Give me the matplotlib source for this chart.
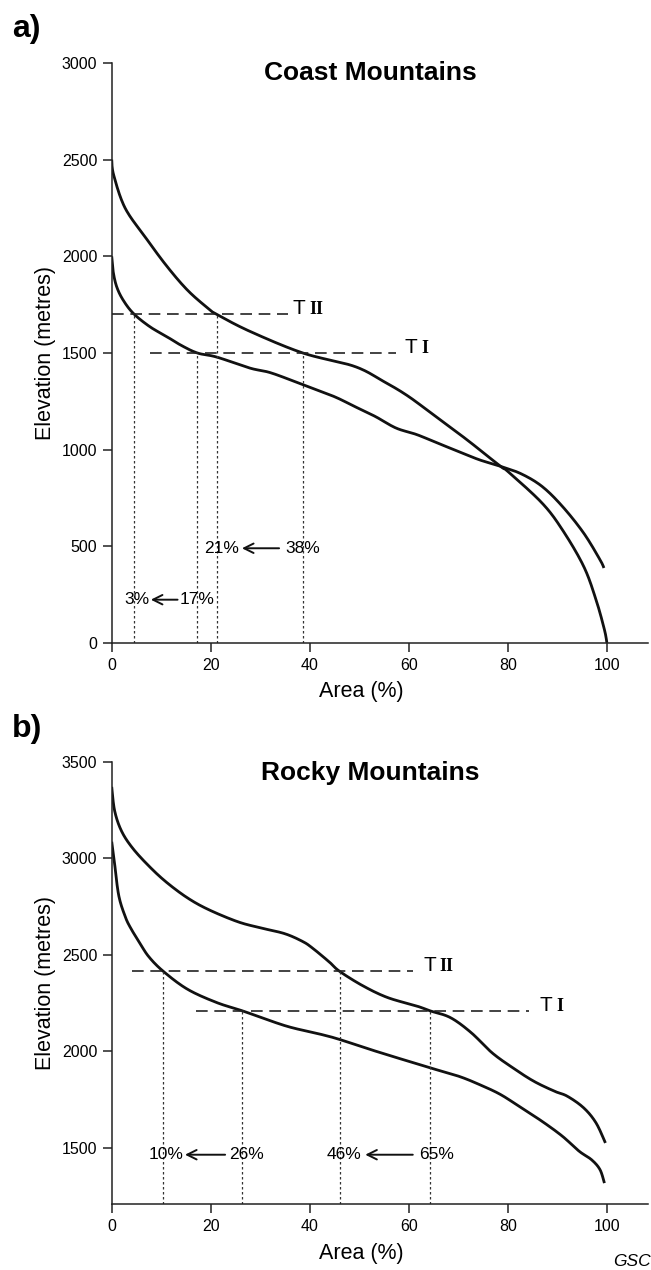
import numpy as np
import matplotlib.pyplot as plt

plt.rcParams['font.family'] = ['Liberation Sans', 'DejaVu Sans']

# ---- a) Coast Mountains hypsometric curves (area %, elevation m)
coast_hi_x = [0, 0.4, 2.7, 6.9, 11.1, 15.3, 19.5, 21.2, 27.9, 38.6, 49, 54.9, 59.9,
              65.8, 71.7, 78.5, 80.1, 86.9, 91, 95.3, 97.8, 99.5, 100]
coast_hi_y = [2500, 2420, 2250, 2095, 1950, 1825, 1730, 1700, 1612, 1500, 1431, 1353,
              1276, 1164, 1052, 914, 885, 724, 586, 397, 224, 69, 0]
coast_lo_x = [0, 0.3, 1.0, 2.3, 4.4, 7.7, 11.1, 14.0, 17.3, 21.2, 27.9, 32.2, 38.6, 44.8,
              49, 53.2, 57.4, 61.6, 65.8, 70, 74.2, 78.5, 82.7, 86.9, 91, 95.3, 98.6, 99.4]
coast_lo_y = [2000, 1920, 1843, 1774, 1704, 1636, 1585, 1540, 1500, 1479, 1422, 1397,
              1336, 1276, 1224, 1172, 1112, 1078, 1034, 991, 948, 914, 875, 810, 707,
              569, 431, 388]

# ---- b) Rocky Mountains
rocky_hi_x = [0, 0.6, 2.0, 4.3, 7.7, 11.1, 15.3, 19.5, 25.4, 30.0, 34.9, 38.5, 40.5,
              43.9, 46, 50.7, 55.7, 61.6, 64.3, 68.4, 72.6, 76.8, 81, 85.2, 89.4, 92,
              95.3, 97.8, 99.7]
rocky_hi_y = [3370, 3245, 3140, 3050, 2955, 2875, 2795, 2735, 2672, 2640, 2610, 2570,
              2536, 2464, 2415, 2340, 2279, 2235, 2210, 2175, 2097, 1993, 1915, 1846,
              1794, 1768, 1708, 1630, 1526]
rocky_lo_x = [0, 0.5, 1.4, 2.7, 3.8, 5.7, 7.5, 10.4, 15.3, 21.2, 26.4, 32.2, 36.4, 42.3,
              46, 53.2, 64.3, 70, 74.2, 78.5, 82.7, 86.9, 91, 94.4, 96.9, 98.6, 99.5]
rocky_lo_y = [3086, 2990, 2810, 2700, 2640, 2560, 2490, 2415, 2322, 2253, 2210, 2157,
              2123, 2088, 2062, 2002, 1915, 1872, 1829, 1777, 1708, 1638, 1561, 1483,
              1439, 1388, 1318]

# terrace levels and where they cross the curves
coast_levels = {'T II': 1700, 'T I': 1500}
coast_cross = [(4.4, 1700), (17.3, 1500), (21.2, 1700), (38.6, 1500)]
rocky_levels = {'T II': 2415, 'T I': 2210}
rocky_cross = [(10.4, 2415), (26.4, 2210), (46, 2415), (64.3, 2210)]


def smooth(x, y):
    # Catmull-Rom interpolation through the read points
    pts = np.column_stack([np.asarray(x, float), np.asarray(y, float)])
    p = np.vstack([pts[0], pts, pts[-1]])
    xs, ys = [], []
    t = np.linspace(0, 1, 20, endpoint=False)[:, None]
    for i in range(1, len(p) - 2):
        p0, p1, p2, p3 = p[i - 1], p[i], p[i + 1], p[i + 2]
        seg = 0.5 * ((2 * p1) + (-p0 + p2) * t + (2 * p0 - 5 * p1 + 4 * p2 - p3) * t ** 2
                     + (-p0 + 3 * p1 - 3 * p2 + p3) * t ** 3)
        xs.append(seg[:, 0])
        ys.append(seg[:, 1])
    xs.append([pts[-1, 0]])
    ys.append([pts[-1, 1]])
    return np.concatenate(xs), np.concatenate(ys)


def label_T(ax, x, y, roman):
    ax.text(x, y, 'T', fontsize=15, ha='left', va='baseline')
    ax.annotate(roman, (x, y), xytext=(12, 0), textcoords='offset points',
                fontsize=13, family='Liberation Serif', fontweight='bold',
                ha='left', va='baseline')


def setup(ax, ylim, yticks, xlab_y):
    ax.set_xlim(0, 108.3)
    ax.set_ylim(*ylim)
    ax.set_xticks([0, 20, 40, 60, 80, 100])
    ax.set_yticks(yticks)
    for s in ['top', 'right']:
        ax.spines[s].set_visible(False)
    for s in ['left', 'bottom']:
        ax.spines[s].set_linewidth(1.1)
        ax.spines[s].set_color('#222222')
    ax.tick_params(direction='out', length=6.5, width=1.1, labelsize=11.5, pad=4,
                   color='#222222')
    ax.set_xlabel('Area (%)', fontsize=15.5)
    ax.set_ylabel('Elevation (metres)', fontsize=15.5)
    ax.yaxis.set_label_coords(-0.104, 0.5)
    ax.xaxis.set_label_coords(0.466, xlab_y)


fig = plt.figure(figsize=(6.51, 12.70), dpi=100)
ax1 = fig.add_axes([0.1716, 0.4937, 0.8238, 0.4567])
ax2 = fig.add_axes([0.1716, 0.0520, 0.8238, 0.3482])

dash_kw = dict(color='#222222', lw=1.2, dashes=(7, 4))
dot_kw = dict(color='#333333', lw=0.9, dashes=(2, 2))
arrow_kw = dict(arrowstyle='->', lw=1.4, color='#111111', shrinkA=0, shrinkB=0,
                mutation_scale=17)
pct = dict(fontsize=12.5, ha='center', va='center')

# ---- panel a
setup(ax1, (0, 3000), [0, 500, 1000, 1500, 2000, 2500, 3000], -0.065)
for xs, ys in [(coast_hi_x, coast_hi_y), (coast_lo_x, coast_lo_y)]:
    sx, sy = smooth(xs, ys)
    ax1.plot(sx, sy, color='#111111', lw=2, solid_capstyle='butt')
ax1.plot([0, 35.5], [coast_levels['T II']] * 2, **dash_kw)
ax1.plot([7.7, 57.4], [coast_levels['T I']] * 2, **dash_kw)
for cx, cy in coast_cross:
    ax1.plot([cx, cx], [0, cy], **dot_kw)
label_T(ax1, 36.6, coast_levels['T II'], 'II')
label_T(ax1, 59.2, coast_levels['T I'], 'I')
ax1.text(22.2, 490, '21%', **pct)
ax1.text(38.5, 490, '38%', **pct)
ax1.annotate('', xy=(26.3, 490), xytext=(33.8, 490), arrowprops=arrow_kw)
ax1.text(5.0, 224, '3%', **pct)
ax1.text(17.2, 224, '17%', **pct)
ax1.annotate('', xy=(7.9, 224), xytext=(13.3, 224), arrowprops=arrow_kw)
ax1.text(52.2, 2950, 'Coast Mountains', fontsize=19, fontweight='bold',
         ha='center', va='center')
fig.text(0.018, 0.977, 'a)', fontsize=23, fontweight='bold', ha='left', va='center')

# ---- panel b
setup(ax2, (1210, 3500), [1500, 2000, 2500, 3000, 3500], -0.0875)
for xs, ys in [(rocky_hi_x, rocky_hi_y), (rocky_lo_x, rocky_lo_y)]:
    sx, sy = smooth(xs, ys)
    ax2.plot(sx, sy, color='#111111', lw=2, solid_capstyle='butt')
ax2.plot([4.0, 60.8], [rocky_levels['T II']] * 2, **dash_kw)
ax2.plot([17.0, 84.3], [rocky_levels['T I']] * 2, **dash_kw)
for cx, cy in rocky_cross:
    ax2.plot([cx, cx], [1210, cy], **dot_kw)
label_T(ax2, 62.9, rocky_levels['T II'], 'II')
label_T(ax2, 86.4, rocky_levels['T I'], 'I')
ax2.text(10.9, 1465, '10%', **pct)
ax2.text(27.2, 1465, '26%', **pct)
ax2.annotate('', xy=(14.8, 1465), xytext=(22.9, 1465), arrowprops=arrow_kw)
ax2.text(47.0, 1465, '46%', **pct)
ax2.text(65.6, 1465, '65%', **pct)
ax2.annotate('', xy=(51.2, 1465), xytext=(60.8, 1465), arrowprops=arrow_kw)
ax2.text(52.2, 3443, 'Rocky Mountains', fontsize=19, fontweight='bold',
         ha='center', va='center')
fig.text(0.018, 0.426, 'b)', fontsize=23, fontweight='bold', ha='left', va='center')

fig.text(0.999, 0.001, 'GSC', fontsize=12.5, style='italic', ha='right', va='bottom')

fig.savefig('out.png', dpi=100)
